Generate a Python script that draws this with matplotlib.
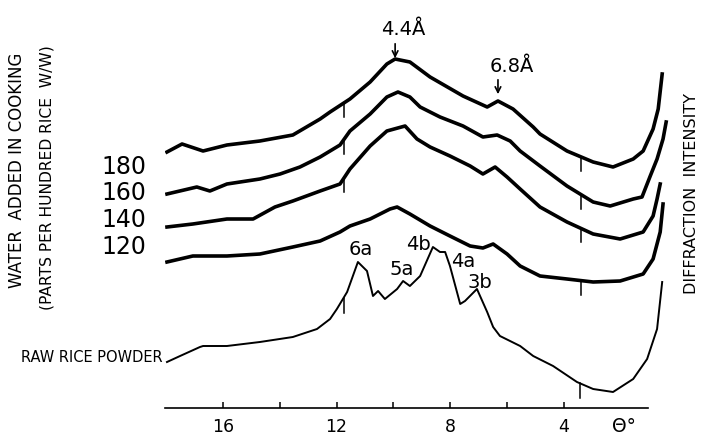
import numpy as np
import matplotlib
matplotlib.use("Agg")
import matplotlib.pyplot as plt

# ---- data (theta in degrees, intensity in arbitrary stacked units) ----
theta_180 = [17.97, 17.44, 16.70, 15.86, 14.70, 13.54, 13.18, 12.58, 12.23, 11.53, 10.82, 10.23, 9.94,
             9.42, 8.71, 7.55, 6.70, 6.32, 5.79, 5.08, 4.84, 3.89, 2.97, 2.27, 1.56, 1.21, 0.86, 0.68, 0.54]
int_180 = [256, 264, 257, 263, 267, 273, 279, 289, 296, 309, 326, 344, 349,
           346, 331, 312, 301, 307, 299, 281, 274, 257, 246, 241, 249, 257, 279, 299, 334]

theta_160 = [17.97, 16.92, 16.46, 15.86, 14.70, 13.99, 13.29, 12.58, 11.88, 11.53, 10.82, 10.23, 9.84,
             9.42, 9.06, 8.36, 7.55, 6.85, 6.35, 5.89, 5.54, 4.84, 3.89, 2.97, 2.37, 1.56, 1.25, 0.96,
             0.72, 0.51, 0.40]
int_160 = [214, 221, 217, 224, 229, 234, 241, 251, 263, 277, 294, 311, 316,
           311, 301, 291, 282, 271, 273, 267, 257, 242, 222, 206, 202, 209, 211, 232,
           249, 269, 286]

theta_140 = [17.97, 17.06, 15.86, 14.94, 14.17, 13.54, 12.58, 11.88, 11.53, 10.82, 10.23, 9.59, 9.17,
             8.71, 8.01, 7.30, 6.85, 6.42, 6.00, 5.54, 4.84, 3.89, 2.97, 2.02, 1.21, 0.86, 0.72, 0.61]
int_140 = [181, 184, 189, 189, 201, 207, 217, 224, 239, 262, 277, 282, 269,
           261, 252, 242, 234, 241, 231, 219, 201, 186, 174, 169, 176, 192, 209, 224]

theta_120 = [17.97, 17.06, 15.86, 14.70, 13.54, 12.58, 11.88, 11.53, 10.82, 10.12, 9.87, 9.42, 8.71,
             8.01, 7.30, 6.85, 6.49, 6.00, 5.54, 4.84, 3.89, 2.97, 2.02, 1.21, 0.86, 0.61, 0.51]
int_120 = [146, 152, 152, 154, 161, 167, 176, 182, 189, 199, 201, 194, 182,
           172, 162, 160, 164, 154, 142, 132, 129, 126, 127, 134, 149, 176, 204]

theta_raw = [17.97, 17.51, 16.81, 16.70, 15.86, 14.70, 13.54, 12.69, 12.23, 11.99, 11.63, 11.25, 10.93,
             10.72, 10.54, 10.30, 9.87, 9.66, 9.42, 9.06, 8.61, 8.36, 8.18, 8.01, 7.65, 7.48, 7.06,
             6.70, 6.49, 6.25, 5.54, 5.08, 4.38, 3.54, 2.97, 2.27, 1.56, 1.07, 0.72, 0.54]
int_raw = [46, 52, 61, 62, 62, 66, 71, 79, 89, 99, 116, 146, 137,
           112, 117, 109, 119, 127, 122, 132, 161, 156, 156, 142, 104, 107, 119,
           96, 81, 72, 62, 52, 42, 26, 19, 16, 29, 49, 79, 126]

series_labels = ["180", "160", "140", "120"]
peak_labels = ["6a", "5a", "4b", "4a", "3b"]
peak_theta = [11.14, 9.70, 9.13, 7.55, 6.95]
peak_int = [154, 134, 159, 142, 121]

x_ticks = [16, 14, 12, 10, 8, 6, 4]
x_tick_labels = ["16", "", "12", "", "8", "", "4"]

# small calibration marks drawn on the traces (theta positions)
marks_180 = [11.75, 3.40]
marks_160 = [11.75, 3.40]
marks_140 = [11.75, 3.40]
marks_120 = [3.40]
marks_raw = [11.75, 3.45]

W, H = 702, 439
fig = plt.figure(figsize=(W / 100, H / 100), dpi=100)
fig.patch.set_facecolor("white")


def fx(x):
    return x / W


def fy(y):
    return 1 - y / H


ax = fig.add_axes([fx(165), fy(409), (669 - 165) / W, (409 - 20) / H])
ax.set_xlim(18.04, 0.30)
ax.set_ylim(0, 389)
ax.set_facecolor("none")
for s in ["top", "left", "right"]:
    ax.spines[s].set_visible(False)
ax.spines["bottom"].set_bounds(1.04, 18.04)
ax.spines["bottom"].set_linewidth(1.2)
ax.set_yticks([])
ax.set_xticks(x_ticks)
ax.set_xticklabels(x_tick_labels, fontsize=12.5)
ax.tick_params(axis="x", direction="in", length=4, width=1.1, pad=6.5)

cooked = [(theta_180, int_180, marks_180), (theta_160, int_160, marks_160),
          (theta_140, int_140, marks_140), (theta_120, int_120, marks_120)]
for th, it, mk in cooked:
    ax.plot(th, it, color="black", lw=2.6, solid_joinstyle="round")
    order = np.argsort(th)
    for m in mk:
        yv = np.interp(m, np.array(th)[order], np.array(it)[order])
        ax.plot([m, m], [yv, yv - 14], color="black", lw=1.1)

ax.plot(theta_raw, int_raw, color="black", lw=1.4, solid_joinstyle="round")
order = np.argsort(theta_raw)
for m in marks_raw:
    yv = np.interp(m, np.array(theta_raw)[order], np.array(int_raw)[order])
    ax.plot([m, m], [yv, yv - 15], color="black", lw=1.1)

# peak labels
for lab, t, v in zip(peak_labels, peak_theta, peak_int):
    ax.text(t, v, lab, fontsize=14, ha="center", va="baseline")

# d-spacing annotations
ax.text(9.66, 374, "4.4Å", fontsize=14, ha="center", va="baseline")
ax.annotate("", xy=(9.94, 347), xytext=(9.94, 367),
            arrowprops=dict(arrowstyle="->", lw=1.2, color="black"))
ax.text(5.82, 337, "6.8Å", fontsize=14, ha="center", va="baseline")
ax.annotate("", xy=(6.32, 311), xytext=(6.32, 331),
            arrowprops=dict(arrowstyle="->", lw=1.2, color="black"))

# left labels for series
for lab, y in zip(series_labels, [167, 193, 220, 247]):
    fig.text(fx(124), fy(y), lab, fontsize=17, ha="center", va="center")
fig.text(fx(163), fy(358), "RAW RICE POWDER", fontsize=10.5, ha="right", va="center")

fig.text(fx(17), fy(170), "WATER  ADDED IN COOKING", fontsize=12, rotation=90,
         ha="center", va="center")
fig.text(fx(47), fy(178), "(PARTS PER HUNDRED RICE  W/W)", fontsize=11.2, rotation=90,
         ha="center", va="center")
fig.text(fx(692), fy(194), "DIFFRACTION  INTENSITY", fontsize=11.5, rotation=90,
         ha="center", va="center")
fig.text(fx(624), fy(427), "Θ°", fontsize=13.5, ha="center", va="center")

fig.savefig("out.png", dpi=100, facecolor="white")
